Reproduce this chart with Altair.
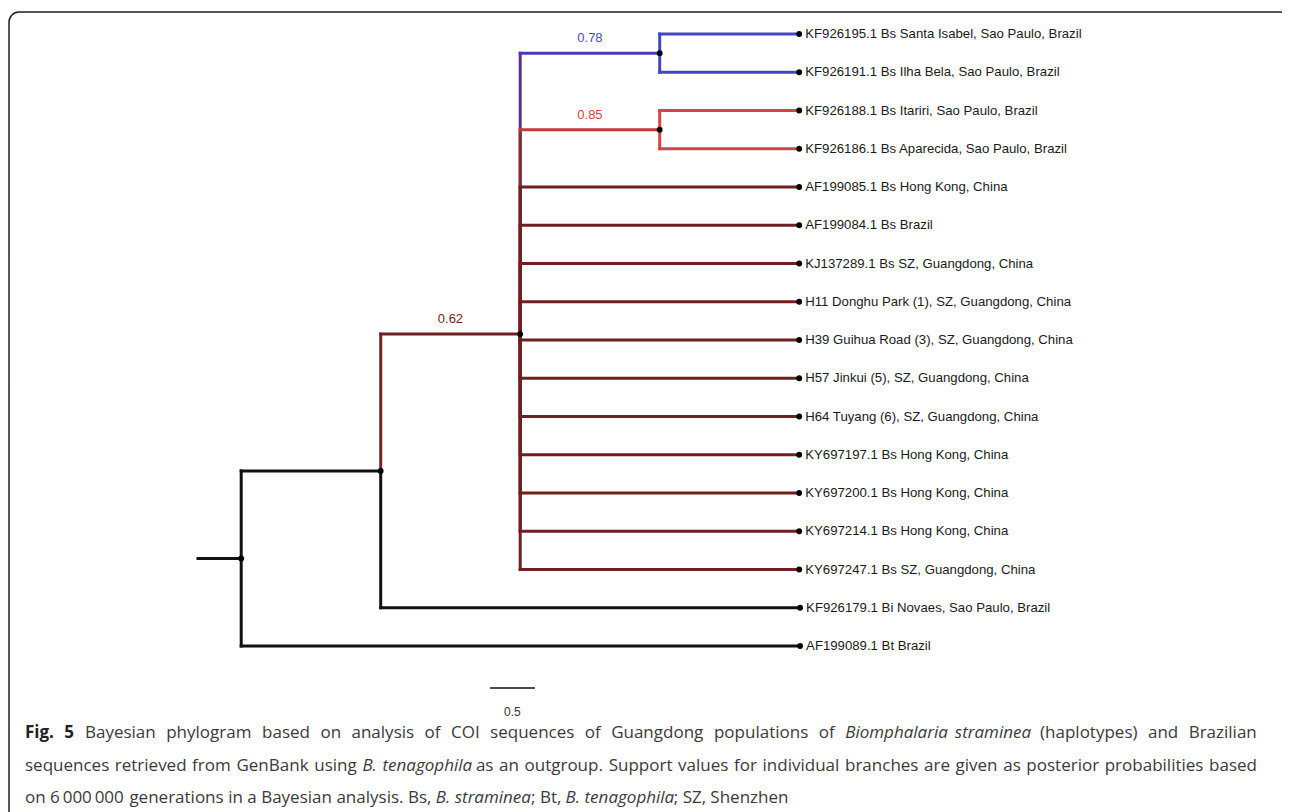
import altair as alt
import pandas as pd

# ---------------- data ----------------
leaf_names = [
    "KF926195.1 Bs Santa Isabel, Sao Paulo, Brazil",
    "KF926191.1 Bs Ilha Bela, Sao Paulo, Brazil",
    "KF926188.1 Bs Itariri, Sao Paulo, Brazil",
    "KF926186.1 Bs Aparecida, Sao Paulo, Brazil",
    "AF199085.1 Bs Hong Kong, China",
    "AF199084.1 Bs Brazil",
    "KJ137289.1 Bs SZ, Guangdong, China",
    "H11 Donghu Park (1), SZ, Guangdong, China",
    "H39 Guihua Road (3), SZ, Guangdong, China",
    "H57 Jinkui (5), SZ, Guangdong, China",
    "H64 Tuyang (6), SZ, Guangdong, China",
    "KY697197.1 Bs Hong Kong, China",
    "KY697200.1 Bs Hong Kong, China",
    "KY697214.1 Bs Hong Kong, China",
    "KY697247.1 Bs SZ, Guangdong, China",
    "KF926179.1 Bi Novaes, Sao Paulo, Brazil",
    "AF199089.1 Bt Brazil",
]
leaf_parent = ["n3", "n3", "n4", "n4"] + ["n2"] * 11 + ["n1", "root"]
leaf_branch = [1.55, 1.55, 1.55, 1.55] + [3.10] * 11 + [4.66, 6.21]

internal_nodes = ["root", "n1", "n2", "n3", "n4"]
internal_parent = [None, "root", "n1", "n2", "n2"]
internal_branch = [0.48, 1.55, 1.55, 1.55, 1.55]
internal_support = ["", "", "0.62", "0.78", "0.85"]

scale_bar_length = 0.5
scale_bar_label = "0.5"

# caption: *bold*, _italic_
caption_lines = [
    "*Fig. 5* Bayesian phylogram based on analysis of COI sequences of Guangdong populations of "
    "_Biomphalaria straminea_ (haplotypes) and Brazilian",
    "sequences retrieved from GenBank using _B. tenagophila_ as an outgroup. Support values for "
    "individual branches are given as posterior probabilities based",
    "on 6\u2009000\u2009000 generations in a Bayesian analysis. Bs, _B. straminea_; Bt, _B. tenagophila_; SZ, Shenzhen",
]
caption_justified = [True, True, False]

# ---------------- styles ----------------
MAROON = "#6e1f1f"
BLUE = "#4545c4"
RED = "#d44444"
BLACK = "#111111"
node_vcolor = {"n1": BLACK, "n2": "#7a2222", "n3": "#5a2e8e", "n4": "#842a32"}
node_hcolor = {"n1": BLACK, "n2": MAROON, "n3": "#4a3cb6", "n4": "#c03b3b"}
leaf_group_color = {"n3": BLUE, "n4": RED, "n2": MAROON, "n1": BLACK, "root": BLACK}
support_color = {"n2": MAROON, "n3": "#4a4ac4", "n4": "#d24444"}

W, H = 1274, 804

# ---------------- tree layout from data ----------------
parent, branch = {}, {}
for n, p, b in zip(internal_nodes, internal_parent, internal_branch):
    parent[n] = p
    branch[n] = b
for i, (p, b) in enumerate(zip(leaf_parent, leaf_branch)):
    parent[f"L{i}"] = p
    branch[f"L{i}"] = b

children = {}
for n, p in parent.items():
    if p is not None:
        children.setdefault(p, []).append(n)

xpos, ypos = {}, {}
def getx(n):
    if n not in xpos:
        p = parent[n]
        xpos[n] = branch[n] if p is None else getx(p) + branch[n]
    return xpos[n]

def gety(n):
    if n not in ypos:
        if n.startswith("L"):
            ypos[n] = float(n[1:])
        else:
            c = [gety(k) for k in children[n]]
            ypos[n] = sum(c) / len(c)
    return ypos[n]

for n in parent:
    getx(n); gety(n)

segs = [dict(x=0.0, x2=xpos["root"], y=ypos["root"], y2=ypos["root"], color=BLACK)]
order = ["n3", "n4", "n1", "n2"] + [f"L{i}" for i in range(len(leaf_names))]
for n in order:
    p = parent[n]
    if n.startswith("L"):
        vc = hc = leaf_group_color[p]
    else:
        vc, hc = node_vcolor[n], node_hcolor[n]
    segs.append(dict(x=xpos[p], x2=xpos[p], y=ypos[p], y2=ypos[n], color=vc))
    segs.append(dict(x=xpos[p], x2=xpos[n], y=ypos[n], y2=ypos[n], color=hc))
seg_df = pd.DataFrame(segs)

dots_df = pd.DataFrame([dict(x=xpos[n], y=ypos[n]) for n in parent])
leaf_df = pd.DataFrame([dict(x=xpos[f"L{i}"], y=ypos[f"L{i}"], name=nm) for i, nm in enumerate(leaf_names)])
sup_df = pd.DataFrame([
    dict(x=(xpos[n] + xpos[parent[n]]) / 2, y=ypos[n], label=s, color=support_color[n])
    for n, s in zip(internal_nodes, internal_support) if s
])

SB_X, SB_Y = 3.244, 17.1
sb_df = pd.DataFrame([dict(x=SB_X, x2=SB_X + scale_bar_length, y=SB_Y, xm=SB_X + scale_bar_length / 2,
                           ylab=SB_Y + 0.63, label=scale_bar_label)])

# ---------------- caption layout (approximate Open Sans advances, /2048 em) ----------------
ADV = {" ": 532, "\u2009": 410, ".": 545, ",": 502, ";": 545, "(": 606, ")": 606,
       "a": 1139, "b": 1255, "c": 975, "d": 1255, "e": 1149, "f": 694, "g": 1122, "h": 1257,
       "i": 518, "j": 518, "k": 1075, "l": 518, "m": 1905, "n": 1257, "o": 1237, "p": 1255,
       "q": 1255, "r": 836, "s": 977, "t": 723, "u": 1257, "v": 1026, "w": 1593, "x": 1073,
       "y": 1028, "z": 977, "A": 1296, "B": 1327, "C": 1292, "D": 1493, "E": 1139, "F": 1057,
       "G": 1491, "H": 1511, "I": 571, "O": 1595, "S": 1124, "Z": 1165}
STYLE_F = {"n": 1.0, "i": 0.935, "b": 1.07}
CAP_SIZE = 17
CAP_X0, CAP_X1 = 17, 1249
CAP_BASE = [729.5, 762.5, 794.5]

def text_w(t, st):
    return sum(ADV.get(c, 1171) for c in t) / 2048 * CAP_SIZE * STYLE_F[st]

def parse(line):
    words, cur, style = [], [], "n"
    for ch in line:
        if ch == "*":
            style = "n" if style == "b" else "b"; continue
        if ch == "_":
            style = "n" if style == "i" else "i"; continue
        if ch == " ":
            if cur:
                words.append(cur); cur = []
            continue
        if cur and cur[-1][1] == style:
            cur[-1][0] += ch
        else:
            cur.append([ch, style])
    if cur:
        words.append(cur)
    return words

cap_rows = []
for li, (line, just) in enumerate(zip(caption_lines, caption_justified)):
    words = parse(line)
    widths = [sum(text_w(t, s) + (1.5 if s == "i" and len(w) > 1 else 0) for t, s in w) for w in words]
    gap = (CAP_X1 - CAP_X0 - sum(widths)) / (len(words) - 1) if just else ADV[" "] / 2048 * CAP_SIZE
    x = CAP_X0
    for w, ww in zip(words, widths):
        xx = x
        for t, s in w:
            cap_rows.append(dict(t=t, st=s, px=xx, py=CAP_BASE[li]))
            xx += text_w(t, s) + (1.5 if s == "i" and len(w) > 1 else 0)
        x += ww + gap
cap_df = pd.DataFrame(cap_rows)

# ---------------- chart ----------------
xs = alt.Scale(domain=[-190 / 90, (W - 190) / 90], nice=False, zero=False)
ys = alt.Scale(domain=[-26 / 38.25, (H - 26) / 38.25], reverse=True, nice=False, zero=False)
X = lambda f: alt.X(f, type="quantitative", scale=xs, axis=None)
Y = lambda f: alt.Y(f, type="quantitative", scale=ys, axis=None)

rules = alt.Chart(seg_df).mark_rule(strokeWidth=3, strokeCap="square").encode(
    x=X("x"), x2="x2", y=Y("y"), y2="y2", color=alt.Color("color:N", scale=None))

dots = alt.Chart(dots_df).mark_circle(size=34, color="#000000", opacity=1).encode(x=X("x"), y=Y("y"))

labels = alt.Chart(leaf_df).mark_text(align="left", baseline="middle", dx=6, font="Liberation Sans",
                                      fontSize=13.2, color="#1a1a1a").encode(x=X("x"), y=Y("y"), text="name:N")

support = alt.Chart(sup_df).mark_text(align="center", baseline="middle", dy=-15, font="Liberation Sans",
                                      fontSize=13).encode(
    x=X("x"), y=Y("y"), text="label:N", color=alt.Color("color:N", scale=None))

sbar = alt.Chart(sb_df).mark_rule(strokeWidth=1.5, color="#111").encode(x=X("x"), x2="x2", y=Y("y"))
sbar_lab = alt.Chart(sb_df).mark_text(align="center", baseline="middle", font="Liberation Sans",
                                      fontSize=12, color="#333").encode(x=X("xm"), y=Y("ylab"), text="label:N")

frame = alt.Chart(pd.DataFrame({"a": [0]})).mark_rect(
    fillOpacity=0, stroke="#222", strokeWidth=1.5, cornerRadius=10).encode(
    x=alt.value(1), x2=alt.value(W + 8), y=alt.value(4), y2=alt.value(840))

cap_layers = []
for st in ["n", "i", "b"]:
    kw = dict(align="left", baseline="alphabetic", font="Open Sans", fontSize=CAP_SIZE, color="#3a3a3a")
    if st == "b":
        kw.update(fontWeight="bold", color="#222222")
    if st == "i":
        kw.update(fontStyle="italic")
    cap_layers.append(
        alt.Chart(cap_df[cap_df.st == st]).mark_text(**kw).encode(
            x=alt.X("px:Q", scale=None, axis=None), y=alt.Y("py:Q", scale=None, axis=None), text="t:N"))

chart = alt.layer(frame, rules, dots, labels, support, sbar, sbar_lab, *cap_layers).properties(
    width=W, height=H, autosize=alt.AutoSizeParams(type="none"), padding=0
).configure_view(stroke=None)

chart.save("out.html", embed_options={"renderer": "svg", "actions": False})
